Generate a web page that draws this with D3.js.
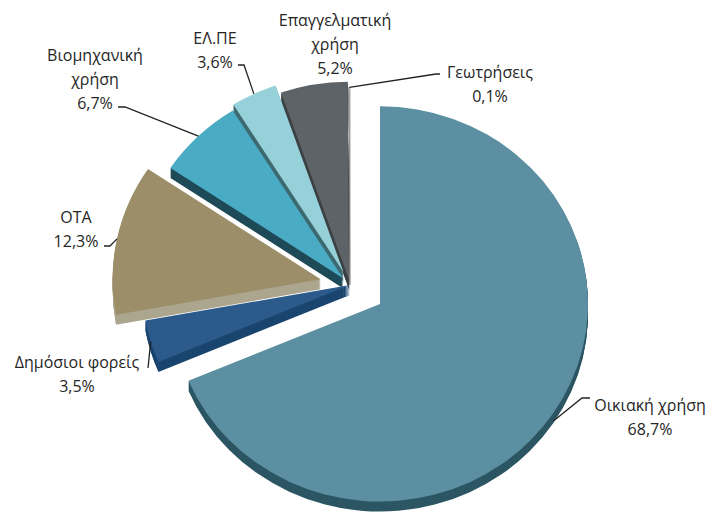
<!DOCTYPE html>
<html>
<head>
<meta charset="utf-8">
<script src="https://cdn.jsdelivr.net/npm/d3@7"></script>
<style>
  body { margin: 0; background: #fff; }
  text { font-family: "Open Sans", "Noto Sans", sans-serif; font-size: 16px; fill: #262626; }
</style>
</head>
<body>
<svg id="chart"></svg>
<script>
// data
const categories = ['Οικιακή χρήση', 'Δημόσιοι φορείς', 'ΟΤΑ', 'Βιομηχανική χρήση', 'ΕΛ.ΠΕ', 'Επαγγελματική χρήση', 'Γεωτρήσεις']
const values = [68.7, 3.5, 12.3, 6.7, 3.6, 5.2, 0.1]
const valueLabels = ['68,7%', '3,5%', '12,3%', '6,7%', '3,6%', '5,2%', '0,1%']

// look
const topColors = ['#5b8fa1', '#2b5a8b', '#9b8e68', '#4aabc5', '#96d0d8', '#5e6367', '#d4d4d4']
const sideColors = ['#2d5664', '#1a456f', '#aca68f', '#1f4b58', '#3e6b71', '#3d4245', '#8a8a8a']
const explode = [36, 0, 30, 10, 15, 6, 0]
// label text lines, centre x, first line y, leader start points
const labelLines = [['Οικιακή χρήση'], ['Δημόσιοι φορείς'], ['ΟΤΑ'], ['Βιομηχανική', 'χρήση'], ['ΕΛ.ΠΕ'], ['Επαγγελματική', 'χρήση'], ['Γεωτρήσεις']]
const labelAt = [[650, 405], [77, 362], [76, 217], [95, 55], [215, 38], [335, 20], [490, 72]]
const leaderFrom = [[[590, 398], [582, 398]], [[148, 368]], [[104, 246], [110, 246]], [[118, 107], [125, 107]], [[238, 65], [244, 65]], null, [[440, 74], [436, 74]]]

const W = 711, H = 518
const cx = 350, cy = 285, r = 208, tilt = 0.95, depth = 10

const svg = d3.select('#chart').attr('width', W).attr('height', H)

const pie = d3.pie().sort(null).value(d => d)
const arcs = pie(values)
const arc = d3.arc().innerRadius(0).outerRadius(r)

// apex of each slice after exploding
const apex = arcs.map((a, i) => {
    const m = (a.startAngle + a.endAngle) / 2
    return [cx + explode[i] * Math.sin(m), cy - explode[i] * Math.cos(m) * tilt]
})

// draw back slices first
const order = d3.range(arcs.length).sort((a, b) => {
    const ma = (arcs[a].startAngle + arcs[a].endAngle) / 2
    const mb = (arcs[b].startAngle + arcs[b].endAngle) / 2
    return (apex[a][1] - Math.cos(ma) * r * 0.5) - (apex[b][1] - Math.cos(mb) * r * 0.5)
})

const g = svg.append('g')
order.forEach(i => {
    const s = g.append('g')
    for (let k = depth; k >= 1; k--) {
        s.append('path')
        .attr('d', arc(arcs[i]))
        .attr('transform', `translate(${apex[i][0]},${apex[i][1] + k}) scale(1,${tilt})`)
        .attr('fill', sideColors[i])
    }
    s.append('path')
    .attr('d', arc(arcs[i]))
    .attr('transform', `translate(${apex[i][0]},${apex[i][1]}) scale(1,${tilt})`)
    .attr('fill', topColors[i])
    .attr('stroke', i === 6 ? '#666' : 'none')
    .attr('stroke-width', i === 6 ? 0.6 : 0)
})

// leader lines
arcs.forEach((a, i) => {
    if (!leaderFrom[i]) return
    const m = (a.startAngle + a.endAngle) / 2
    const end = [apex[i][0] + r * Math.sin(m), apex[i][1] - r * Math.cos(m) * tilt]
    if (i === 0) end[1] += depth * 0.8
    svg.append('path')
    .attr('d', d3.line()(leaderFrom[i].concat([end])))
    .attr('fill', 'none')
    .attr('stroke', '#222')
    .attr('stroke-width', 1.3)
})

// labels
labelLines.forEach((lines, i) => {
    const t = svg.append('text')
    .attr('text-anchor', 'middle')
    const all = lines.concat([valueLabels[i]])
    all.forEach((line, j) => {
        t.append('tspan')
        .attr('x', labelAt[i][0])
        .attr('y', labelAt[i][1] + 6 + j * 24)
        .text(line)
    })
})
</script>
</body>
</html>
